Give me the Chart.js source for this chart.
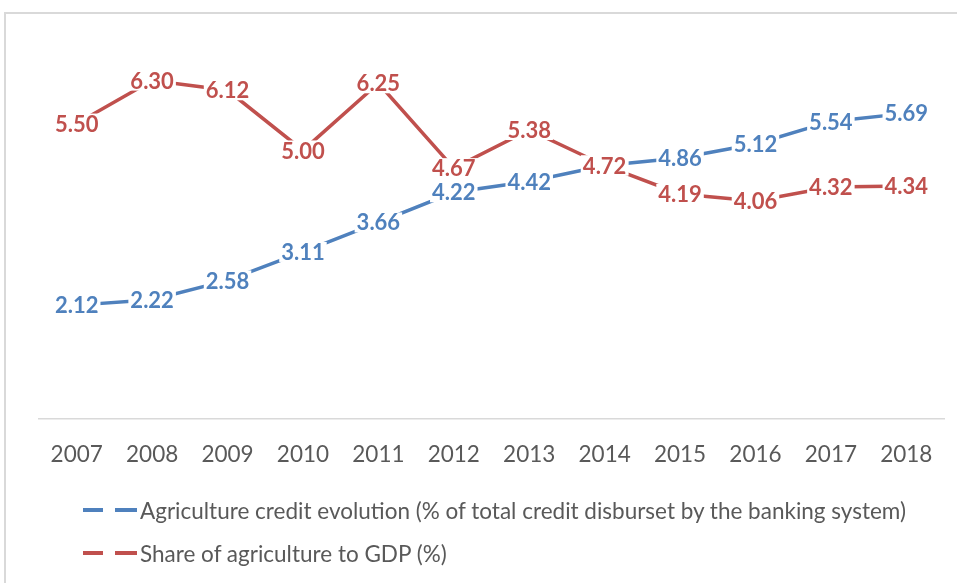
<!DOCTYPE html>
<html><head><meta charset="utf-8">
<script src="https://cdn.jsdelivr.net/npm/chart.js@4.4.1/dist/chart.umd.min.js"></script>
<style>
html,body{margin:0;padding:0;background:#fff;}
#wrap{position:relative;width:957px;height:583px;overflow:hidden;background:#fff;}
#frame{position:absolute;left:4px;top:12px;width:1000px;height:1000px;border-top:2px solid #D9D9D9;border-left:2px solid #D9D9D9;}
canvas{position:absolute;left:0;top:0;}
.leg{position:absolute;left:83px;height:30px;font-family:Lato,sans-serif;font-size:22.5px;color:#595959;display:flex;align-items:center;white-space:nowrap;}
.dash{display:inline-block;height:3.5px;}
</style></head>
<body><div id="wrap"><div id="frame"></div><canvas id="c" width="957" height="583"></canvas><div id="legend"></div></div>
<script>
const years = ['2007','2008','2009','2010','2011','2012','2013','2014','2015','2016','2017','2018'];
const creditShare = [2.12,2.22,2.58,3.11,3.66,4.22,4.42,4.72,4.86,5.12,5.54,5.69];
const gdpShare = [5.50,6.30,6.12,5.00,6.25,4.67,5.38,4.72,4.19,4.06,4.32,4.34];
const seriesNames = ['Agriculture credit evolution (% of total credit disburset by the banking system)','Share of agriculture to GDP (%)'];
const seriesColors = ['#4F81BD','#C0504D'];

const labelPlugin = {
  id: 'valueLabels',
  afterDatasetsDraw(chart) {
    const ctx = chart.ctx;
    ctx.save();
    ctx.font = 'bold 22px Lato';
    ctx.textAlign = 'center';
    ctx.textBaseline = 'middle';
    chart.data.datasets.forEach((ds, i) => {
      const meta = chart.getDatasetMeta(i);
      meta.data.forEach((pt, j) => {
        const txt = ds.data[j].toFixed(2);
        const w = ctx.measureText(txt).width;
        ctx.fillStyle = '#fff';
        ctx.fillRect(pt.x - w / 2 - 2, pt.y - 10, w + 4, 20);
        ctx.fillStyle = ds.borderColor;
        ctx.fillText(txt, pt.x, pt.y + 1);
      });
    });
    ctx.restore();
  }
};

new Chart(document.getElementById('c'), {
  type: 'line',
  data: {
    labels: years,
    datasets: [
      {label: seriesNames[0], data: creditShare, borderColor: seriesColors[0], backgroundColor: seriesColors[0], borderWidth: 3.5, pointRadius: 0, tension: 0},
      {label: seriesNames[1], data: gdpShare, borderColor: seriesColors[1], backgroundColor: seriesColors[1], borderWidth: 3.5, pointRadius: 0, tension: 0}
    ]
  },
  options: {
    responsive: false,
    animation: false,
    devicePixelRatio: 1,
    layout: {padding: {left: 39, right: 13, top: 43, bottom: 101}},
    plugins: {legend: {display: false}, tooltip: {enabled: false}},
    scales: {
      x: {
        offset: true,
        grid: {display: false},
        border: {display: true, color: '#D9D9D9', width: 1.5},
        ticks: {font: {family: 'Lato', size: 22.5}, color: '#595959', padding: 14, maxRotation: 0}
      },
      y: {display: false, min: 0, max: 7}
    }
  },
  plugins: [labelPlugin]
});

const legend = document.getElementById('legend');
const rowsY = [495, 538];
seriesNames.forEach((name, i) => {
  const row = document.createElement('div');
  row.className = 'leg';
  row.style.top = rowsY[i] + 'px';
  const d1 = document.createElement('span'); d1.className = 'dash'; d1.style.width = '20px'; d1.style.background = seriesColors[i]; d1.style.marginRight = '12px';
  const d2 = document.createElement('span'); d2.className = 'dash'; d2.style.width = '22px'; d2.style.background = seriesColors[i]; d2.style.marginRight = '3px';
  const t = document.createElement('span'); t.textContent = name;
  row.appendChild(d1); row.appendChild(d2); row.appendChild(t);
  legend.appendChild(row);
});
</script>
</body></html>
